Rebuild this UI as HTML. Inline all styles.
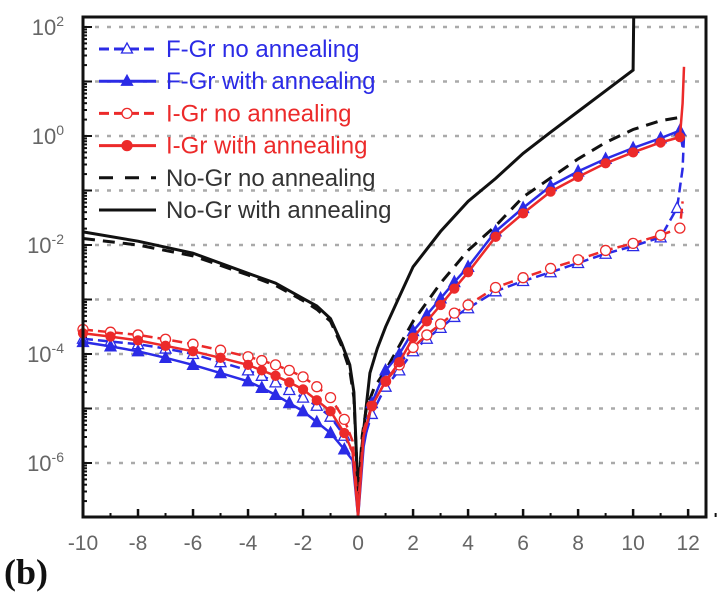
<!DOCTYPE html>
<html><head><meta charset="utf-8"><style>
html,body{margin:0;padding:0;background:#fff;width:719px;height:593px;overflow:hidden}
svg{display:block}
</style></head><body>
<svg id="chart" width="719" height="593"></svg>
<script>
const xTicks=[-10,-8,-6,-4,-2,0,2,4,6,8,10,12];
const yTicks=[2,0,-2,-4,-6];
const fgNoX=[-10,-9,-8,-7,-6,-5,-4,-3.5,-3,-2.5,-2,-1.5,-1,-0.5,-0.2,0,0.2,0.5,1,1.5,2,2.5,3,3.5,4,5,6,7,8,9,10,11,11.6,11.8,11.85];
const fgNoY=[-3.72,-3.77,-3.82,-3.9,-4.0,-4.15,-4.3,-4.4,-4.52,-4.66,-4.8,-4.95,-5.15,-5.5,-5.8,-6.8,-5.6,-5.1,-4.6,-4.3,-3.95,-3.72,-3.52,-3.32,-3.16,-2.85,-2.66,-2.5,-2.33,-2.16,-2.02,-1.86,-1.32,-0.6,0.0];
const fgAnX=[-10,-9,-8,-7,-6,-5,-4,-3.5,-3,-2.5,-2,-1.5,-1,-0.5,-0.2,0,0.2,0.5,1,1.5,2,2.5,3,3.5,4,5,6,7,8,9,10,11,11.7,11.8];
const fgAnY=[-3.78,-3.86,-3.95,-4.07,-4.2,-4.35,-4.5,-4.62,-4.75,-4.9,-5.05,-5.25,-5.45,-5.75,-5.95,-7.0,-5.7,-4.9,-4.3,-4.0,-3.58,-3.28,-2.98,-2.68,-2.4,-1.75,-1.32,-0.92,-0.65,-0.42,-0.22,-0.04,0.1,-0.2];
const igNoX=[-10,-9,-8,-7,-6,-5,-4,-3.5,-3,-2.5,-2,-1.5,-1,-0.5,-0.2,0,0.2,0.5,1,1.5,2,2.5,3,3.5,4,5,6,7,8,9,10,11,11.7,11.8];
const igNoY=[-3.55,-3.6,-3.65,-3.73,-3.82,-3.93,-4.05,-4.12,-4.2,-4.3,-4.42,-4.6,-4.8,-5.2,-5.6,-6.8,-5.4,-4.95,-4.5,-4.2,-3.88,-3.65,-3.45,-3.25,-3.1,-2.78,-2.6,-2.43,-2.27,-2.1,-1.97,-1.82,-1.69,-1.2];
const igAnX=[-10,-9,-8,-7,-6,-5,-4,-3.5,-3,-2.5,-2,-1.5,-1,-0.5,-0.2,0,0.2,0.5,1,1.5,2,2.5,3,3.5,4,5,6,7,8,9,10,11,11.7,11.8,11.85];
const igAnY=[-3.62,-3.68,-3.75,-3.85,-3.95,-4.07,-4.2,-4.3,-4.4,-4.52,-4.65,-4.85,-5.05,-5.45,-5.8,-7.0,-5.5,-4.95,-4.5,-4.15,-3.7,-3.4,-3.1,-2.8,-2.5,-1.85,-1.42,-1.02,-0.75,-0.5,-0.3,-0.12,-0.02,0.6,1.27];
const ngNoX=[-10,-8,-6,-4,-3,-2,-1.5,-1,-0.6,-0.3,-0.15,0,0.15,0.3,0.6,1,1.5,2,3,4,5,6,7,8,9,10,11,11.8];
const ngNoY=[-1.88,-2.0,-2.2,-2.55,-2.74,-3.02,-3.18,-3.4,-3.85,-4.3,-4.8,-6.6,-5.5,-5.0,-4.6,-4.3,-3.85,-3.4,-2.7,-2.1,-1.65,-1.12,-0.77,-0.42,-0.12,0.12,0.28,0.35];
const ngAnX=[-10,-8,-6,-4,-3,-2,-1.5,-1,-0.6,-0.3,-0.15,0,0.1,0.2,0.43,0.7,1,1.5,2,3,4,5,6,7,8,9,10,10.02];
const ngAnY=[-1.76,-1.93,-2.15,-2.52,-2.7,-2.98,-3.12,-3.35,-3.8,-4.2,-4.7,-6.6,-5.9,-5.4,-4.35,-3.9,-3.5,-2.95,-2.4,-1.75,-1.2,-0.78,-0.32,0.07,0.45,0.83,1.21,2.2];

const X0=83,X1=706,Y0=17,Y1=517;
const xmin=-10,xmax=12.65,ymin=-6.99,ymax=2.18;
function sx(v){return X0+(v-xmin)/(xmax-xmin)*(X1-X0);}
function sy(v){v=Math.max(ymin,Math.min(ymax,v));return 136-v*54.5;}
const NS='http://www.w3.org/2000/svg';
const svg=document.getElementById('chart');
function el(t,a,p){const e=document.createElementNS(NS,t);for(const k in a)e.setAttribute(k,a[k]);(p||svg).appendChild(e);return e;}

const grid=el('g',{});


for(let v=2;v>=-6;v-=1){
  const l=el('line',{x1:X0,x2:X1,y1:sy(v),y2:sy(v),stroke:'#aaa','stroke-width':2.5,'stroke-dasharray':'4 8'},grid);
  
  
}
const ax=el('g',{});


xTicks.forEach(t=>{
  el('line',{x1:sx(t),x2:sx(t),y1:Y1,y2:Y1-8,stroke:'#111','stroke-width':2.5},ax);
  el('line',{x1:sx(t+1),x2:sx(t+1),y1:Y1,y2:Y1-4,stroke:'#111','stroke-width':2},ax);
  const tx=el('text',{x:sx(t),y:550,'text-anchor':'middle','font-family':'Liberation Sans Narrow, Liberation Sans, sans-serif','font-size':21,fill:'#666'},ax);
  tx.textContent=t;
  
  
});
for(let d=2;d>=-7;d--){for(let m=1;m<10;m++){const v=d+Math.log10(m);if(v<ymin||v>ymax)continue;
  el('line',{x1:X0,x2:X0+(m==1?9:4),y1:sy(v),y2:sy(v),stroke:'#111','stroke-width':2},ax);}}
yTicks.forEach(t=>{
  const tx=el('text',{x:64,y:sy(t)+8,'text-anchor':'end','font-family':'Liberation Sans Narrow, Liberation Sans, sans-serif','font-size':22,fill:'#666'},ax);
  tx.textContent='10';
  const s=el('tspan',{dy:-9,'font-size':14},tx);s.textContent=t;
  
  
});

const BLUE='#2b2be6',RED='#ec2a2a';
function series(name,xs,ys,color,dash,marker,fill,w){
  const g=el('g',{});
  
  
  const d=xs.map((x,i)=>(i?'L':'M')+sx(x).toFixed(1)+' '+sy(ys[i]).toFixed(1)).join(' ');
  el('path',{d:d,fill:'none',stroke:color,'stroke-width':w||2.5,'stroke-dasharray':dash||'none'},g);
  if(marker){xs.forEach((x,i)=>{if(Math.abs(x)<0.3||x>11.75)return;const cx=sx(x),cy=sy(ys[i]);
    let m;
    if(marker=='tri')m=el('polygon',{points:`${cx},${cy-6} ${cx-5.5},${cy+4.5} ${cx+5.5},${cy+4.5}`,fill:fill?color:'#fff',stroke:color,'stroke-width':1.3},g);
    else m=el('circle',{cx:cx,cy:cy,r:fill?4.5:5,fill:fill?color:'#fff',stroke:color,'stroke-width':1.3},g);
    
    
  });}
}
series('series-no-gr-no-annealing',ngNoX,ngNoY,'#111','12 8',null,false,3);
series('series-no-gr-with-annealing',ngAnX,ngAnY,'#111',null,null,false,3);
series('series-f-gr-no-annealing',fgNoX,fgNoY,BLUE,'10 5','tri',false);
series('series-i-gr-no-annealing',igNoX,igNoY,RED,'10 5','circ',false);
series('series-f-gr-with-annealing',fgAnX,fgAnY,BLUE,null,'tri',true);
series('series-i-gr-with-annealing',igAnX,igAnY,RED,null,'circ',true);

const fr=el('rect',{x:X0,y:Y0,width:X1-X0,height:Y1-Y0,fill:'none',stroke:'#111','stroke-width':3});



const leg=el('g',{});


const legItems=[['F-Gr no annealing',BLUE,'10 5','tri',false],['F-Gr with annealing',BLUE,null,'tri',true],['I-Gr no annealing',RED,'10 5','circ',false],['I-Gr with annealing',RED,null,'circ',true],['No-Gr no annealing','#111','14 12',null,false],['No-Gr with annealing','#111',null,null,false]];
legItems.forEach((it,i)=>{
  const y=49+i*32.2;
  const g=el('g',{},leg);
  
  
  el('line',{x1:99,x2:156,y1:y,y2:y,stroke:it[1],'stroke-width':3,'stroke-dasharray':it[2]||'none'},g);
  if(it[3]=='tri')el('polygon',{points:`127,${y-6} 121.5,${y+4} 132.5,${y+4}`,fill:it[4]?it[1]:'#fff',stroke:it[1],'stroke-width':1.3},g);
  if(it[3]=='circ')el('circle',{cx:127,cy:y,r:5,fill:it[4]?it[1]:'#fff',stroke:it[1],'stroke-width':1.3},g);
  const t=el('text',{x:166,y:y+8,'font-family':'Liberation Sans, sans-serif','font-size':24,fill:it[1]=='#111'?'#333':it[1]},g);
  t.textContent=it[0];
});
const b=el('text',{x:4,y:584,'font-family':'Liberation Serif, serif','font-size':36,'font-weight':'bold',fill:'#111'});
b.textContent='(b)';


</script>
</body></html>
